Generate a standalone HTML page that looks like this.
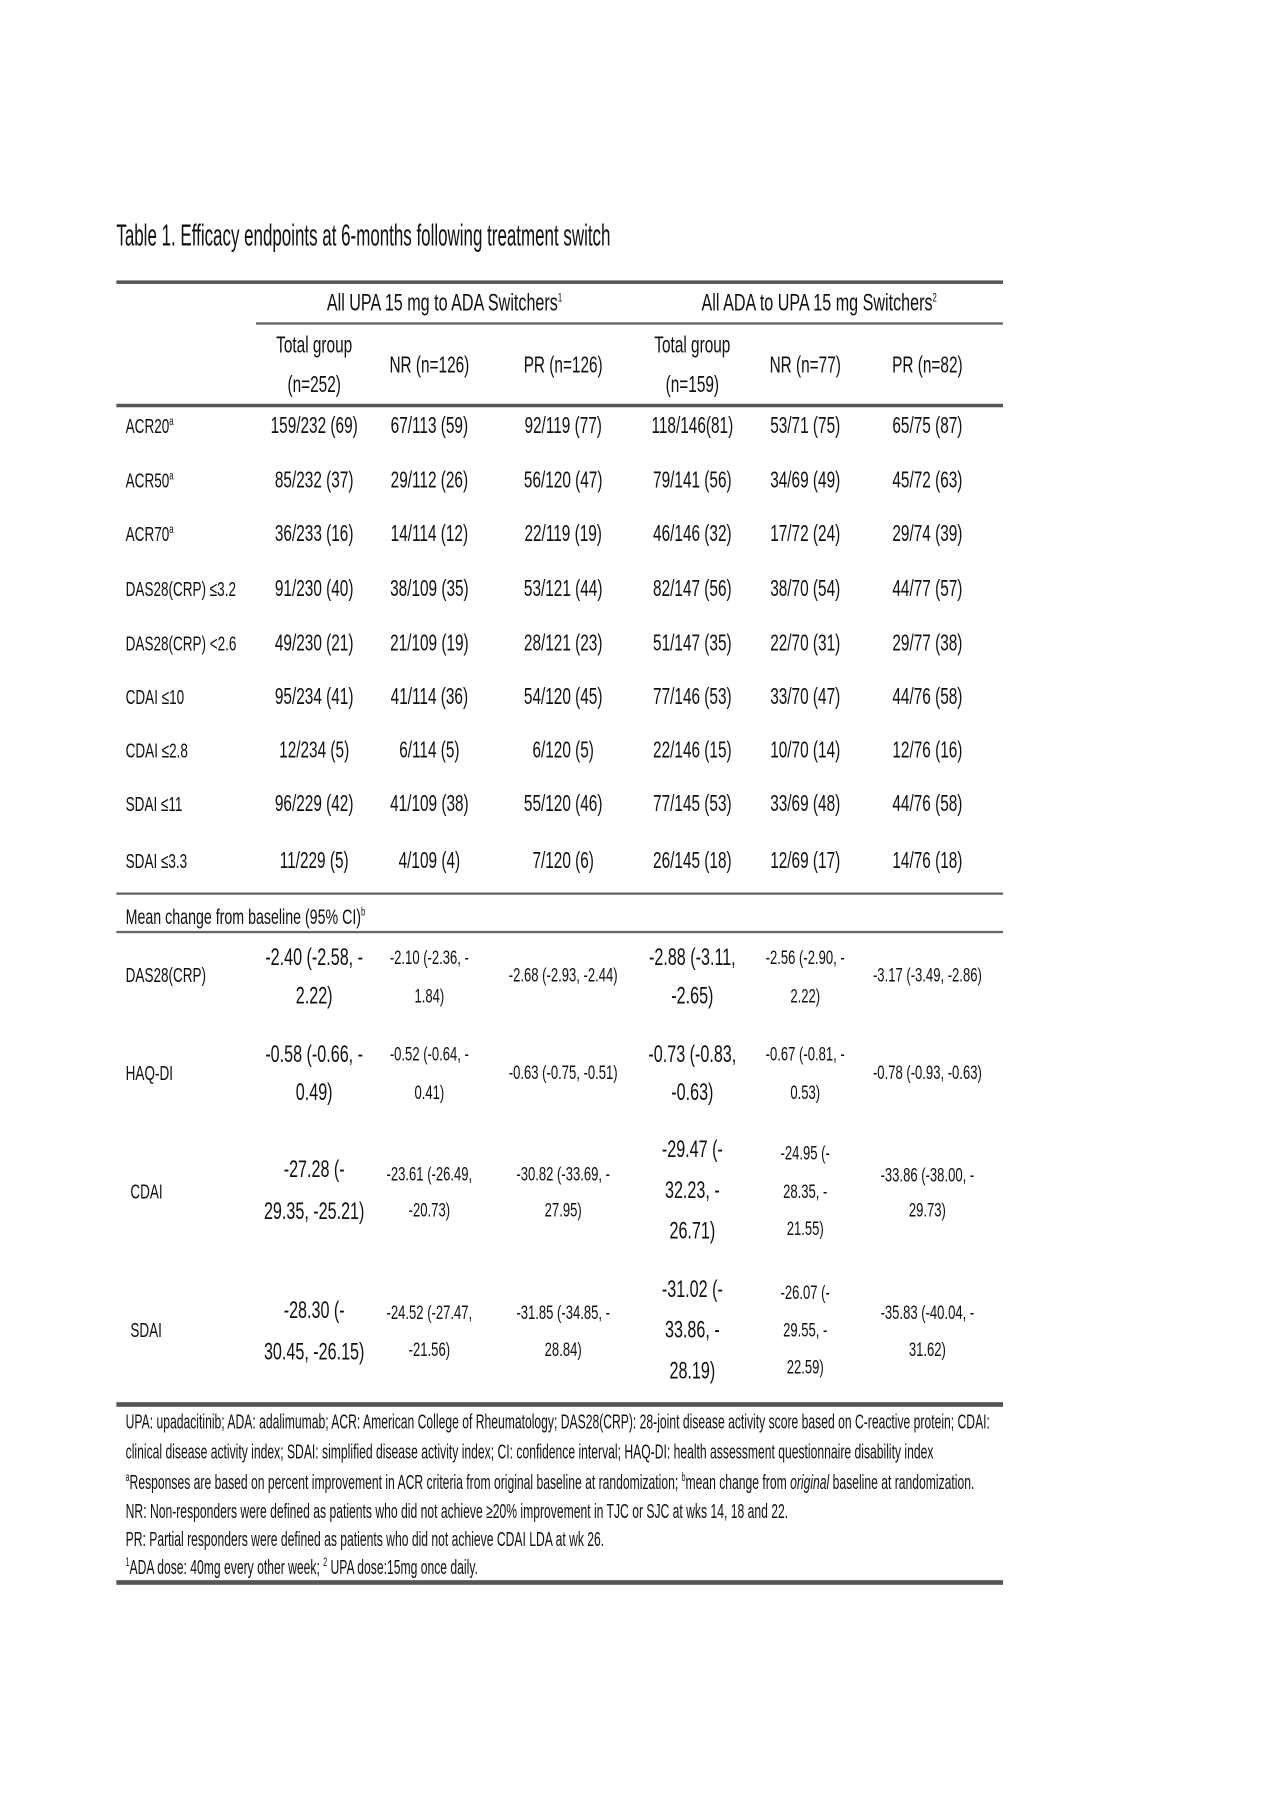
<!DOCTYPE html>
<html><head><meta charset="utf-8"><style>
html,body{margin:0;padding:0;background:#fff;}
body{width:1280px;height:1813px;overflow:hidden;position:relative;}
#w{position:absolute;left:0;top:0;width:1100px;height:1558px;transform:scale(1.1636);transform-origin:0 0;font-family:"Liberation Sans",sans-serif;color:#111;}
.c,.l{position:absolute;white-space:nowrap;font-size:20px;line-height:20px;}
.c{transform:translate(-50%,-50%) scaleX(.66);}
.l{transform-origin:0 50%;transform:translateY(-50%) scaleX(.66);}
.f{font-size:17.4px;line-height:17px;transform:translateY(-50%) scaleX(.6);}
.s{font-size:17px;line-height:17px;}
.b{font-size:21px;line-height:21px;}
.lb{font-size:17.6px;}
.r{position:absolute;background:#555;height:3px;}
.t{position:absolute;background:#666;height:2px;}
sup{font-size:10px;line-height:0;}
</style></head><body><div id="w">
<div class="l" style="left:100px;top:202px;font-size:26px;line-height:26px;transform:translateY(-50%) scaleX(.56)">Table 1. Efficacy endpoints at 6-months following treatment switch</div>

<div class="r" style="left:100px;width:762px;top:241px"></div>
<div class="c" style="left:382px;top:261px;font-size:21px">All UPA 15 mg to ADA Switchers<sup>1</sup></div>
<div class="c" style="left:704px;top:261px;font-size:21px">All ADA to UPA 15 mg Switchers<sup>2</sup></div>
<div class="t" style="left:220px;width:642px;top:277px"></div>

<div class="c" style="left:270px;top:297px">Total group</div><div class="c" style="left:270px;top:331px">(n=252)</div>
<div class="c" style="left:369px;top:314px">NR (n=126)</div>
<div class="c" style="left:484px;top:314px">PR (n=126)</div>
<div class="c" style="left:595px;top:297px">Total group</div><div class="c" style="left:595px;top:331px">(n=159)</div>
<div class="c" style="left:692px;top:314px">NR (n=77)</div>
<div class="c" style="left:797px;top:314px">PR (n=82)</div>
<div class="r" style="left:100px;width:762px;top:347px"></div>

<div class="l lb" style="left:108px;top:366px">ACR20<sup>a</sup></div><div class="c" style="left:270px;top:366px">159/232 (69)</div><div class="c" style="left:369px;top:366px">67/113 (59)</div><div class="c" style="left:484px;top:366px">92/119 (77)</div><div class="c" style="left:595px;top:366px">118/146(81)</div><div class="c" style="left:692px;top:366px">53/71 (75)</div><div class="c" style="left:797px;top:366px">65/75 (87)</div>
<div class="l lb" style="left:108px;top:413px">ACR50<sup>a</sup></div><div class="c" style="left:270px;top:413px">85/232 (37)</div><div class="c" style="left:369px;top:413px">29/112 (26)</div><div class="c" style="left:484px;top:413px">56/120 (47)</div><div class="c" style="left:595px;top:413px">79/141 (56)</div><div class="c" style="left:692px;top:413px">34/69 (49)</div><div class="c" style="left:797px;top:413px">45/72 (63)</div>
<div class="l lb" style="left:108px;top:459px">ACR70<sup>a</sup></div><div class="c" style="left:270px;top:459px">36/233 (16)</div><div class="c" style="left:369px;top:459px">14/114 (12)</div><div class="c" style="left:484px;top:459px">22/119 (19)</div><div class="c" style="left:595px;top:459px">46/146 (32)</div><div class="c" style="left:692px;top:459px">17/72 (24)</div><div class="c" style="left:797px;top:459px">29/74 (39)</div>
<div class="l lb" style="left:108px;top:506px">DAS28(CRP) ≤3.2</div><div class="c" style="left:270px;top:506px">91/230 (40)</div><div class="c" style="left:369px;top:506px">38/109 (35)</div><div class="c" style="left:484px;top:506px">53/121 (44)</div><div class="c" style="left:595px;top:506px">82/147 (56)</div><div class="c" style="left:692px;top:506px">38/70 (54)</div><div class="c" style="left:797px;top:506px">44/77 (57)</div>
<div class="l lb" style="left:108px;top:553px">DAS28(CRP) &lt;2.6</div><div class="c" style="left:270px;top:553px">49/230 (21)</div><div class="c" style="left:369px;top:553px">21/109 (19)</div><div class="c" style="left:484px;top:553px">28/121 (23)</div><div class="c" style="left:595px;top:553px">51/147 (35)</div><div class="c" style="left:692px;top:553px">22/70 (31)</div><div class="c" style="left:797px;top:553px">29/77 (38)</div>
<div class="l lb" style="left:108px;top:599px">CDAI ≤10</div><div class="c" style="left:270px;top:599px">95/234 (41)</div><div class="c" style="left:369px;top:599px">41/114 (36)</div><div class="c" style="left:484px;top:599px">54/120 (45)</div><div class="c" style="left:595px;top:599px">77/146 (53)</div><div class="c" style="left:692px;top:599px">33/70 (47)</div><div class="c" style="left:797px;top:599px">44/76 (58)</div>
<div class="l lb" style="left:108px;top:645px">CDAI ≤2.8</div><div class="c" style="left:270px;top:645px">12/234 (5)</div><div class="c" style="left:369px;top:645px">6/114 (5)</div><div class="c" style="left:484px;top:645px">6/120 (5)</div><div class="c" style="left:595px;top:645px">22/146 (15)</div><div class="c" style="left:692px;top:645px">10/70 (14)</div><div class="c" style="left:797px;top:645px">12/76 (16)</div>
<div class="l lb" style="left:108px;top:691px">SDAI ≤11</div><div class="c" style="left:270px;top:691px">96/229 (42)</div><div class="c" style="left:369px;top:691px">41/109 (38)</div><div class="c" style="left:484px;top:691px">55/120 (46)</div><div class="c" style="left:595px;top:691px">77/145 (53)</div><div class="c" style="left:692px;top:691px">33/69 (48)</div><div class="c" style="left:797px;top:691px">44/76 (58)</div>
<div class="l lb" style="left:108px;top:740px">SDAI ≤3.3</div><div class="c" style="left:270px;top:740px">11/229 (5)</div><div class="c" style="left:369px;top:740px">4/109 (4)</div><div class="c" style="left:484px;top:740px">7/120 (6)</div><div class="c" style="left:595px;top:740px">26/145 (18)</div><div class="c" style="left:692px;top:740px">12/69 (17)</div><div class="c" style="left:797px;top:740px">14/76 (18)</div>

<div class="t" style="left:100px;width:762px;top:767px"></div>
<div class="l" style="left:108px;top:788px;font-size:18.5px">Mean change from baseline (95% CI)<sup>b</sup></div>
<div class="t" style="left:100px;width:762px;top:800px"></div>

<div class="l lb" style="left:108px;top:838px">DAS28(CRP)</div>
<div class="c b" style="left:270px;top:823px">-2.40 (-2.58, -</div><div class="c b" style="left:270px;top:856px">2.22)</div>
<div class="c s" style="left:369px;top:823px">-2.10 (-2.36, -</div><div class="c s" style="left:369px;top:856px">1.84)</div>
<div class="c s" style="left:484px;top:838px">-2.68 (-2.93, -2.44)</div>
<div class="c b" style="left:595px;top:823px">-2.88 (-3.11,</div><div class="c b" style="left:595px;top:856px">-2.65)</div>
<div class="c s" style="left:692px;top:823px">-2.56 (-2.90, -</div><div class="c s" style="left:692px;top:856px">2.22)</div>
<div class="c s" style="left:797px;top:838px">-3.17 (-3.49, -2.86)</div>

<div class="l lb" style="left:108px;top:922px">HAQ-DI</div>
<div class="c b" style="left:270px;top:906px">-0.58 (-0.66, -</div><div class="c b" style="left:270px;top:939px">0.49)</div>
<div class="c s" style="left:369px;top:906px">-0.52 (-0.64, -</div><div class="c s" style="left:369px;top:939px">0.41)</div>
<div class="c s" style="left:484px;top:922px">-0.63 (-0.75, -0.51)</div>
<div class="c b" style="left:595px;top:906px">-0.73 (-0.83,</div><div class="c b" style="left:595px;top:939px">-0.63)</div>
<div class="c s" style="left:692px;top:906px">-0.67 (-0.81, -</div><div class="c s" style="left:692px;top:939px">0.53)</div>
<div class="c s" style="left:797px;top:922px">-0.78 (-0.93, -0.63)</div>

<div class="l lb" style="left:112px;top:1024px">CDAI</div>
<div class="c b" style="left:270px;top:1005px">-27.28 (-</div><div class="c b" style="left:270px;top:1041px">29.35, -25.21)</div>
<div class="c s" style="left:369px;top:1009px">-23.61 (-26.49,</div><div class="c s" style="left:369px;top:1040px">-20.73)</div>
<div class="c s" style="left:484px;top:1009px">-30.82 (-33.69, -</div><div class="c s" style="left:484px;top:1040px">27.95)</div>
<div class="c b" style="left:595px;top:988px">-29.47 (-</div><div class="c b" style="left:595px;top:1023px">32.23, -</div><div class="c b" style="left:595px;top:1058px">26.71)</div>
<div class="c s" style="left:692px;top:991px">-24.95 (-</div><div class="c s" style="left:692px;top:1024px">28.35, -</div><div class="c s" style="left:692px;top:1056px">21.55)</div>
<div class="c s" style="left:797px;top:1010px">-33.86 (-38.00, -</div><div class="c s" style="left:797px;top:1040px">29.73)</div>

<div class="l lb" style="left:112px;top:1143px">SDAI</div>
<div class="c b" style="left:270px;top:1126px">-28.30 (-</div><div class="c b" style="left:270px;top:1162px">30.45, -26.15)</div>
<div class="c s" style="left:369px;top:1128px">-24.52 (-27.47,</div><div class="c s" style="left:369px;top:1160px">-21.56)</div>
<div class="c s" style="left:484px;top:1128px">-31.85 (-34.85, -</div><div class="c s" style="left:484px;top:1160px">28.84)</div>
<div class="c b" style="left:595px;top:1108px">-31.02 (-</div><div class="c b" style="left:595px;top:1143px">33.86, -</div><div class="c b" style="left:595px;top:1178px">28.19)</div>
<div class="c s" style="left:692px;top:1111px">-26.07 (-</div><div class="c s" style="left:692px;top:1143px">29.55, -</div><div class="c s" style="left:692px;top:1175px">22.59)</div>
<div class="c s" style="left:797px;top:1128px">-35.83 (-40.04, -</div><div class="c s" style="left:797px;top:1160px">31.62)</div>

<div class="r" style="left:100px;width:762px;top:1205px;height:4px"></div>
<div class="l f" style="left:108px;top:1222px">UPA: upadacitinib; ADA: adalimumab; ACR: American College of Rheumatology; DAS28(CRP): 28-joint disease activity score based on C-reactive protein; CDAI:</div>
<div class="l f" style="left:108px;top:1248px">clinical disease activity index; SDAI: simplified disease activity index; CI: confidence interval; HAQ-DI: health assessment questionnaire disability index</div>
<div class="l f" style="left:108px;top:1274px"><sup>a</sup>Responses are based on percent improvement in ACR criteria from original baseline at randomization; <sup>b</sup>mean change from <i>original</i> baseline at randomization.</div>
<div class="l f" style="left:108px;top:1299px">NR: Non-responders were defined as patients who did not achieve ≥20% improvement in TJC or SJC at wks 14, 18 and 22.</div>
<div class="l f" style="left:108px;top:1323px">PR: Partial responders were defined as patients who did not achieve CDAI LDA at wk 26.</div>
<div class="l f" style="left:108px;top:1347px"><sup>1</sup>ADA dose: 40mg every other week; <sup>2</sup> UPA dose:15mg once daily.</div>
<div class="r" style="left:100px;width:762px;top:1358px;height:4px"></div>
</div></body></html>
